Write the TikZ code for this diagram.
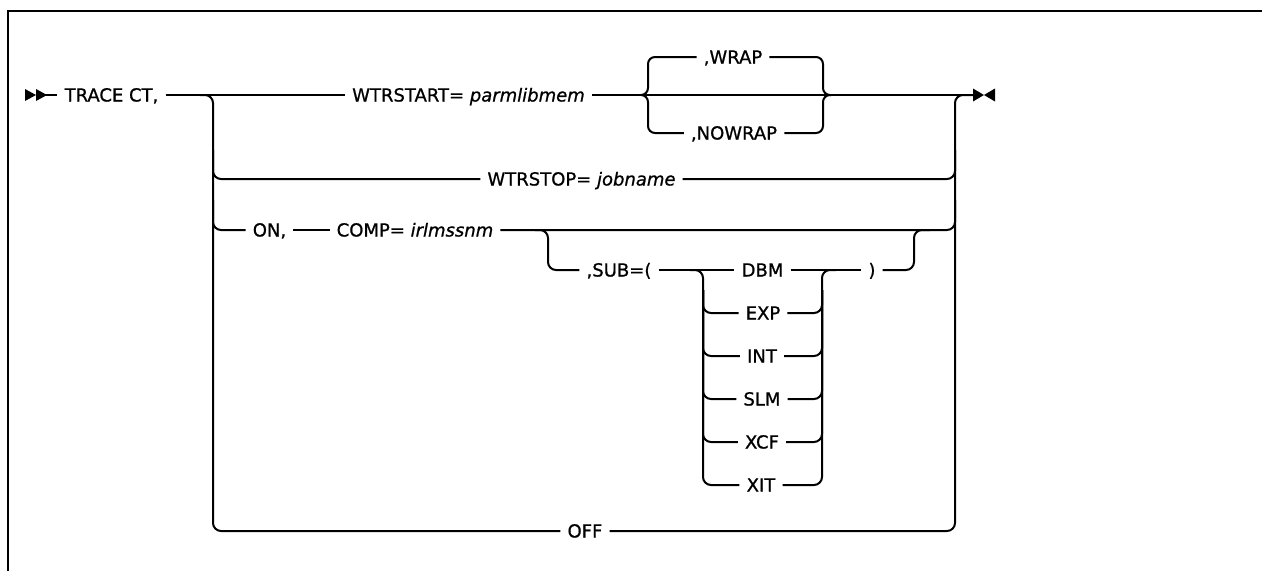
\documentclass[tikz,border=0pt]{standalone}
\usepackage{fontspec}
\setmainfont{DejaVu Sans}[FakeBold=0.9]
\begin{document}
\begin{tikzpicture}[x=1pt,y=-1pt,
  ln/.style={line width=2pt, line join=round},
  rc/.style={ln, rounded corners=8pt},
  rcb/.style={ln, rounded corners=7pt},
  frame/.style={line width=2.8pt},
  lbl/.style={inner xsep=7pt, inner ysep=0pt, text height=13pt, text depth=0pt,
              font=\fontsize{18}{22}\selectfont, anchor=center},
  tip/.style={fill=black}]
\useasboundingbox (0,0) rectangle (1262,571);
% frame
\draw[frame] (1262,11) -- (8,11) -- (8,571);

% labels
\node[lbl] (trace)    at (111.5,95)  {TRACE CT,};
\node[lbl] (wtrstart) at (468.5,95)  {WTRSTART= \textit{parmlibmem}};
\node[lbl] (wrap)     at (733,57)    {,WRAP};
\node[lbl] (nowrap)   at (734,133)   {,NOWRAP};
\node[lbl] (wtrstop)  at (581.5,179) {WTRSTOP= \textit{jobname}};
\node[lbl] (on)       at (269.5,230) {ON,};
\node[lbl] (comp)     at (415,230)   {COMP= \textit{irlmssnm}};
\node[lbl] (sub)      at (619,270)   {,SUB=(};
\node[lbl] (dbm)      at (762.5,270) {DBM};
\node[lbl] (exp)      at (763,313)   {EXP};
\node[lbl] (int)      at (762,356)   {INT};
\node[lbl] (slm)      at (762,399)   {SLM};
\node[lbl] (xcf)      at (762,442)   {XCF};
\node[lbl] (xit)      at (761,485)   {XIT};
\node[lbl] (paren)    at (872,270)   {)};
\node[lbl] (off)      at (585,531)   {OFF};

% junction coordinates
\coordinate (st)    at (36,95);
\coordinate (endL)  at (973,95);
\coordinate (jL)    at (200,95);
\coordinate (cLoff) at (213,531);
\coordinate (cL2)   at (213,150);
\coordinate (cL3)   at (213,200);
\coordinate (cRtop) at (955,95);
\coordinate (cR2)   at (955,150);
\coordinate (cR3)   at (955,200);
\coordinate (bl)    at (641,95);
\coordinate (br)    at (831,95);
\coordinate (bk1)   at (535,230);
\coordinate (bk2)   at (930,230);
\coordinate (sL)    at (690,270);
\coordinate (sR)    at (836,270);
\coordinate (sLb)   at (703,485);
\coordinate (sRt)   at (822,270);

% start and end marks
\fill[tip] (25,89) -- (36,95) -- (25,101) -- cycle;
\fill[tip] (36,89) -- (47,95) -- (36,101) -- cycle;
\fill[tip] (973,88.5) -- (984,95) -- (973,101.5) -- cycle;
\fill[tip] (995,88.5) -- (984,95) -- (995,101.5) -- cycle;

% main line
\draw[ln] (st) -- (trace.west);
\draw[ln] (trace.east) -- (wtrstart.west);
\draw[ln] (wtrstart.east) -- (endL);

% left trunk and right trunk
\draw[rc] (jL) -| (cLoff) -- (off.west);
\draw[rc] (off.east) -| (cRtop) -- (endL);

% WRAP / NOWRAP braces
\draw[rcb] (bl) -| (648,57) -- (wrap.west);
\draw[rcb] (bl) -| (648,133) -- (nowrap.west);
\draw[rcb] (wrap.east) -| (823,95) -- (br);
\draw[rcb] (nowrap.east) -| (823,95) -- (br);

% WTRSTOP row
\draw[rc] (cL2) |- (wtrstop.west);
\draw[rc] (wtrstop.east) -| (cR2);

% ON row
\draw[rc] (cL3) |- (on.west);
\draw[ln] (on.east) -- (comp.west);
\draw[rc] (comp.east) -| (cR3);

% SUB bracket
\draw[rc] (bk1) -| (548,270) -- (sub.west);
\draw[ln] (sub.east) -- (dbm.west);
\draw[ln] (dbm.east) -- (paren.west);
\draw[rc] (paren.east) -| (914,230) -- (bk2);

% SUB choice stack
\draw[rc] (sL) -| (sLb) -- (xit.west);
\draw[rc] (xit.east) -| (sRt) -- (sR);
\foreach \n in {exp,int,slm,xcf}{
  \draw[rc] (703,290) |- (\n.west);
  \draw[rc] (\n.east) -| (822,290);
}
\end{tikzpicture}
\end{document}
